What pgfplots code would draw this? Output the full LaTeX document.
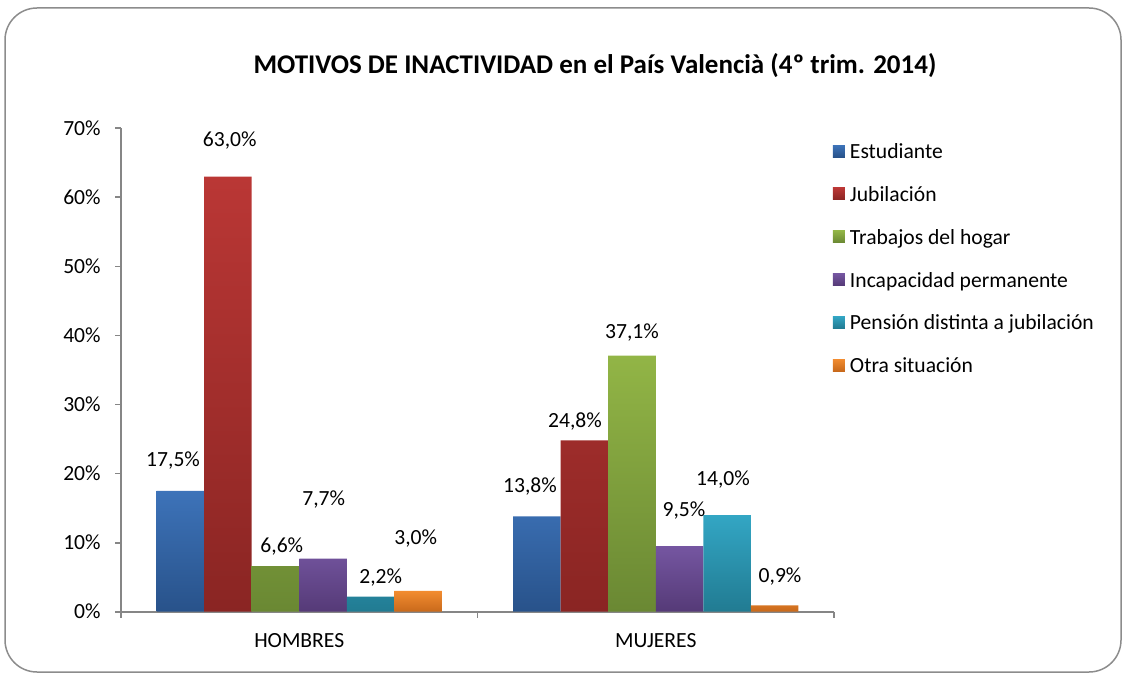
\documentclass[border=0pt]{standalone}
\usepackage{fontspec}
\setmainfont{Carlito}
\usepackage{pgfplots}
\pgfplotsset{compat=1.18}
\definecolor{axgray}{HTML}{868686}
\definecolor{framegray}{HTML}{8C8C8C}
\definecolor{bluet}{HTML}{3D73B9}\definecolor{blueb}{HTML}{28528A}
\definecolor{redt}{HTML}{BA3735}\definecolor{redb}{HTML}{8A2523}
\definecolor{greent}{HTML}{92B546}\definecolor{greenb}{HTML}{6A8833}
\definecolor{purpt}{HTML}{7556A1}\definecolor{purpb}{HTML}{553A77}
\definecolor{cyant}{HTML}{33A6C4}\definecolor{cyanb}{HTML}{217B92}
\definecolor{orat}{HTML}{F28C30}\definecolor{orab}{HTML}{C8691B}
\newcommand{\bodyfont}{\fontsize{10.8}{13}\selectfont}
\pgfplotsset{
  sq legend/.style={legend image code/.code={\fill[##1,draw=none] (0pt,-1.6pt) rectangle (6pt,4.4pt);}},
}
\begin{document}
\bodyfont
\begin{tikzpicture}
\useasboundingbox (0,0) rectangle (562pt,337.5pt);
\draw[color=framegray, line width=0.75pt, rounded corners=16pt] (2.5pt,1.5pt) rectangle (560.5pt,333.5pt);
\node[font=\bfseries\fontsize{13.5}{16}\selectfont] at (297.5pt,304.5pt) {MOTIVOS DE INACTIVIDAD en el País Valencià (4º trim. 2014)};
\begin{axis}[
  at={(60.5pt,31.65pt)}, anchor=south west,
  scale only axis, width=356.5pt, height=241.7pt,
  xmin=-0.5, xmax=1.5, ymin=0, ymax=70,
  axis lines=left, axis line style={-, draw=axgray, line width=0.9pt},
  xtick={-0.5,0.5,1.5}, xticklabels={HOMBRES,MUJERES}, x tick label as interval,
  ytick={0,10,...,70},
  yticklabel={\pgfmathprintnumber{\tick}\%},
  tick align=outside, major tick length=3pt,
  tick style={draw=axgray, line width=0.9pt},
  /pgf/number format/assume math mode=true,
  tick label style={font=\bodyfont, text=black},
  yticklabel style={anchor=east, inner sep=0pt, xshift=-7pt},
  xticklabel style={yshift=-4pt},
  bar width=0.13333,
  clip=false,
  legend cell align=left,
  legend style={draw=none, fill=none, at={(0.998,0.969)}, anchor=north west,
    inner sep=0pt, row sep=11.2pt,
    nodes={inner sep=0pt, text height=7.5pt, text depth=2.7pt, font=\bodyfont},
    /tikz/every odd column/.append style={column sep=2.5pt}},
]
\addplot[ybar, bar shift=-0.33333, draw=none, top color=bluet, bottom color=blueb, sq legend] coordinates {(0,17.5) (1,13.8)};
\addlegendentry{Estudiante}
\addplot[ybar, bar shift=-0.2, draw=none, top color=redt, bottom color=redb, sq legend] coordinates {(0,63.0) (1,24.8)};
\addlegendentry{Jubilación}
\addplot[ybar, bar shift=-0.066667, draw=none, top color=greent, bottom color=greenb, sq legend] coordinates {(0,6.6) (1,37.1)};
\addlegendentry{Trabajos del hogar}
\addplot[ybar, bar shift=0.066667, draw=none, top color=purpt, bottom color=purpb, sq legend] coordinates {(0,7.7) (1,9.5)};
\addlegendentry{Incapacidad permanente}
\addplot[ybar, bar shift=0.2, draw=none, top color=cyant, bottom color=cyanb, sq legend] coordinates {(0,2.2) (1,14.0)};
\addlegendentry{Pensión distinta a jubilación}
\addplot[ybar, bar shift=0.33333, draw=none, top color=orat, bottom color=orab, sq legend] coordinates {(0,3.0) (1,0.9)};
\addlegendentry{Otra situación}
\addplot[forget plot, draw=none, mark=none, nodes near coords, point meta=explicit symbolic,
  every node near coord/.append style={anchor=center, inner sep=0pt, text=black, font=\bodyfont}]
  coordinates {
  (-0.354,21.9) [17,5\%]
  (-0.195,68.2) [63,0\%]
  (-0.049,9.5) [6,6\%]
  (0.0686,16.2) [7,7\%]
  (0.2285,5.0) [2,2\%]
  (0.3267,10.6) [3,0\%]
  (0.6473,18.1) [13,8\%]
  (0.7735,27.5) [24,8\%]
  (0.9334,40.5) [37,1\%]
  (1.0792,14.6) [9,5\%]
  (1.1887,19.1) [14,0\%]
  (1.3486,5.1) [0,9\%]
  };
\end{axis}
\end{tikzpicture}
\end{document}
